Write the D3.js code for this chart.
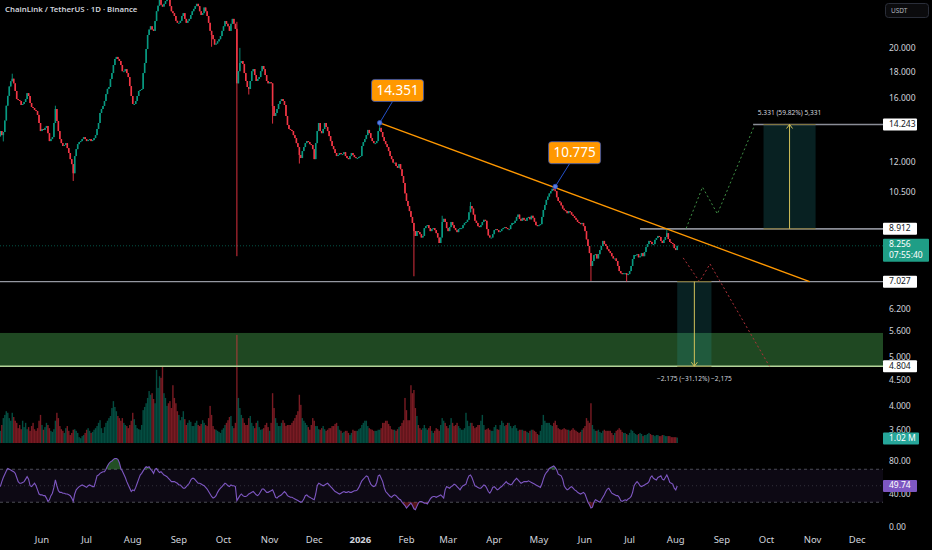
<!DOCTYPE html>
<html><head><meta charset="utf-8">
<script src="https://cdn.jsdelivr.net/npm/d3@7"></script>
<style>html,body{margin:0;padding:0;background:#000;overflow:hidden}svg{display:block}</style>
</head><body><svg id="c" width="932" height="550"></svg>
<script>
// ---------- DATA ----------
const startDate = "2025-05-04"; // first daily candle
const firstOpen = 13.5;
const closes = [
13.83,13.58,13.77,14.5,15.5,16.2,16.9,17.3,17.5,17.14,
16.56,15.97,15.9,15.83,15.55,15.62,15.76,15.97,16.4,16.19,
15.69,15.41,15.34,15.2,15.13,14.87,14.34,13.83,13.96,13.9,
14.03,14.15,13.7,13.22,13.34,13.46,14.34,15.27,14.47,13.83,
13.34,13.1,12.93,12.99,13.1,12.81,12.53,12.19,11.92,11.44,
12.36,12.75,13.04,13.16,13.22,13.34,13.46,13.34,13.22,13.28,
13.34,13.22,13.28,13.4,13.58,13.96,14.34,15.0,15.27,15.48,
15.83,16.33,16.72,16.86,17.48,17.95,18.61,19.12,19.3,19.12,
18.95,18.61,18.1,18.1,18.27,17.95,17.63,16.93,16.19,15.62,
15.62,15.83,16.19,16.56,16.63,16.71,17.95,18.78,20.0,21.3,
21.83,22.15,21.83,21.7,22.68,23.7,24.3,25.2,24.4,24.2,
24.5,24.8,25.4,25.0,24.25,23.7,23.5,23.2,22.7,22.5,
22.5,22.7,23.2,23.5,22.9,22.5,22.7,22.9,23.3,23.7,
23.95,24.25,24.5,24.25,23.7,23.3,23.5,24.1,23.7,23.2,
22.5,21.7,21.3,20.9,20.4,20.5,20.7,20.9,21.2,21.7,
22.15,22.68,22.4,22.15,21.7,22.4,22.9,22.4,21.9,17.14,
18.1,18.78,18.95,18.7,17.95,17.32,16.86,16.71,17.32,18.1,
18.27,17.79,17.32,17.48,17.63,18.1,18.53,18.27,17.79,17.32,
17.14,17.23,17.14,15.48,14.8,15.0,15.27,15.62,15.83,15.97,
15.83,15.55,14.8,14.21,13.96,13.9,13.83,13.58,13.4,13.1,
12.87,12.42,12.25,12.64,12.87,13.1,13.22,13.16,13.04,12.99,
12.75,12.19,13.1,13.83,14.34,13.83,13.7,13.96,14.34,14.09,
13.83,13.52,13.22,12.93,12.75,12.53,12.36,12.42,12.53,12.47,
12.47,12.58,12.36,12.25,12.19,12.36,12.53,12.42,12.30,12.25,
12.25,12.31,12.36,12.93,13.16,13.34,13.58,13.9,13.7,13.4,
13.22,13.1,13.1,13.22,13.83,14.03,13.77,13.46,13.22,13.04,
12.87,12.64,12.36,12.19,12.0,12.0,11.82,11.72,11.92,11.65,
11.3,10.95,10.45,10.1,9.87,9.65,9.4,9.15,8.82,8.63,
8.82,8.78,8.7,8.57,8.63,8.94,9.02,9.06,8.94,8.82,
8.9,8.94,8.86,8.74,8.57,8.36,8.57,9.19,9.32,9.19,
8.94,8.82,8.98,9.19,9.06,8.94,8.86,8.78,8.9,8.94,
8.94,9.06,9.15,9.19,9.28,9.6,9.87,9.76,9.5,9.24,
9.15,9.02,8.98,9.06,9.19,9.28,9.24,8.9,8.65,8.57,
8.57,8.7,8.86,8.9,8.86,8.78,8.82,8.9,8.94,8.98,
8.94,8.9,8.9,9.06,9.15,9.15,9.24,9.4,9.5,9.32,
9.24,9.36,9.28,9.24,9.36,9.4,9.3,9.45,9.36,9.2,
9.06,9.02,9.06,9.1,9.4,9.7,9.92,10.15,10.3,10.45,
10.56,10.67,10.6,10.56,10.27,10.1,10.03,9.9,9.76,9.69,
9.65,9.56,9.65,9.6,9.5,9.44,9.36,9.28,9.19,9.15,
9.1,9.15,9.02,8.82,8.5,8.25,7.99,7.54,7.71,7.92,
7.95,7.8,7.95,8.1,8.25,8.44,8.32,8.25,8.13,8.06,
7.99,7.88,7.8,7.8,7.71,7.54,7.37,7.3,7.27,7.3,
7.3,7.24,7.27,7.37,7.54,7.78,7.92,7.92,7.95,7.84,
7.88,7.99,7.88,8.03,8.21,8.32,8.44,8.4,8.32,8.32,
8.48,8.55,8.63,8.59,8.44,8.36,8.48,8.59,8.74,8.51,
8.4,8.36,8.32,8.17,8.1,8.256];
// notable wicks: index -> [high, low] (null = body edge)
const wicks = {2:[null,13.2],8:[17.9,null],37:[15.5,null],49:[null,11.05],107:[26.5,null],112:[26.8,null],
142:[null,20.2],159:[22.6,7.88],161:[20.1,null],167:[null,16.3],183:[null,14.3],201:[null,11.95],
255:[14.351,null],278:[null,7.2],297:[9.45,null],316:[10.05,null],373:[10.775,null],397:[null,7.05],
421:[null,7.03],448:[8.912,null]};
const volumes = [
2.3,3.4,4.7,5.3,6.0,5.7,4.7,4.2,5.7,4.9,
4.2,3.8,2.8,3.4,2.6,4.2,3.0,3.8,2.6,3.0,
2.3,3.2,3.8,2.6,2.3,2.8,4.2,5.3,3.4,2.5,
3.0,3.8,3.4,2.8,2.3,2.1,2.6,4.2,5.7,4.7,
3.2,2.6,2.3,1.9,2.8,3.2,2.3,1.5,1.9,2.5,
2.6,2.3,1.9,1.1,0.9,1.3,1.5,1.9,2.5,2.8,
2.3,1.9,2.1,2.5,2.8,3.2,3.8,4.3,2.8,1.9,
3.0,3.8,4.2,4.7,5.1,6.6,7.9,6.8,6.0,5.1,
4.7,4.2,4.7,3.8,3.4,3.2,2.8,3.4,4.2,5.7,
4.5,3.4,2.8,2.6,2.5,3.4,6.2,6.8,7.5,8.5,
9.8,9.1,9.4,8.3,7.5,13.8,10.4,12.6,12.3,14.5,
9.4,8.5,7.0,7.5,7.9,6.6,10.9,8.5,7.5,6.0,
5.3,4.3,4.9,6.0,4.5,3.4,3.8,4.3,4.0,3.2,
3.2,3.8,4.2,3.4,3.2,3.6,4.3,3.8,3.4,3.2,
4.7,7.0,5.3,3.2,2.6,2.5,2.3,2.1,1.9,2.5,
2.8,3.4,3.8,4.3,4.9,5.1,3.2,2.8,3.8,20.4,
8.5,6.6,5.3,4.7,3.8,3.4,3.4,4.7,5.1,3.8,
3.2,2.8,3.8,4.2,3.0,2.5,2.6,2.8,3.4,3.8,
3.0,2.3,3.8,9.4,6.6,4.7,3.8,3.2,3.2,3.8,
4.3,3.8,3.2,3.4,3.4,3.4,3.8,4.2,4.7,5.3,
6.0,9.1,7.2,4.7,4.2,3.8,3.4,3.0,2.5,3.4,
4.7,4.2,3.2,3.2,2.6,2.5,2.8,3.2,2.6,2.3,
2.5,2.8,2.8,3.2,3.2,3.6,3.8,3.2,2.5,2.3,
1.9,2.1,2.3,2.3,1.9,1.5,1.9,2.5,2.3,2.3,
2.3,2.6,2.8,3.4,3.8,4.2,4.2,3.2,2.8,2.6,
2.5,2.3,2.3,2.3,2.5,2.5,2.8,3.8,3.8,4.2,
4.2,3.6,3.2,2.6,2.5,2.5,2.3,2.6,3.0,3.2,
3.8,4.3,8.5,6.2,4.3,4.3,10.9,9.4,10.0,6.6,
5.1,3.4,2.8,2.5,2.8,3.4,2.8,2.5,2.8,3.2,
2.3,1.9,2.3,2.8,2.6,2.3,3.4,4.7,4.2,3.8,
3.2,2.8,3.4,4.7,3.8,3.2,3.4,3.8,3.2,2.8,
2.5,2.5,2.8,5.7,4.2,3.2,3.8,3.8,3.2,2.8,
3.0,3.4,3.4,4.2,5.3,3.4,2.5,2.6,2.8,2.5,
2.3,2.3,3.0,3.4,2.6,2.5,3.4,4.2,3.8,3.2,
3.4,3.8,3.8,3.2,2.8,3.2,3.4,2.8,2.3,2.5,
2.5,2.5,2.3,2.3,2.1,1.9,2.3,2.5,2.5,2.3,
2.1,1.7,1.5,2.3,3.4,5.3,4.2,3.8,3.8,3.8,
3.4,3.2,3.8,4.2,3.4,2.8,2.6,2.5,2.6,2.8,
2.6,2.5,2.5,2.3,2.5,2.8,2.5,2.3,2.1,1.9,
2.1,2.5,2.8,3.2,4.7,4.2,3.8,7.5,3.4,2.6,
2.3,2.3,2.5,2.1,1.9,2.3,2.5,2.3,2.3,2.3,
2.3,1.9,1.5,1.9,2.3,2.5,2.8,2.5,2.1,1.9,
1.9,1.7,1.5,1.9,2.5,2.3,1.9,1.7,1.5,1.7,
1.9,1.7,1.3,1.5,1.5,1.7,1.9,1.7,1.5,1.5,
1.3,1.5,1.5,1.3,1.3,1.5,1.5,1.3,1.3,1.3,
1.3,1.1,1.1,1.1,1.1,1.02];
const rsiValues = [
49,55,60,64,68,71,70,69,68,67, 65,60,55,53,53,54,55,58,61,58,
50,49,51,53,50,45,40,39,39,38, 38,35,31,33,38,41,48,57,50,44,
42,42,41,41,40,40,39,38,35,31, 40,45,47,49,50,51,50,49,48,50,
51,50,49,49,55,62,63,65,66,67, 67,70,74,77,79,80,82,83,83,82,
78,71,68,64,60,55,51,47,43,45, 44,48,53,58,63,65,68,71,73,72,
73,70,68,65,70,71,68,66,67,65, 63,62,61,59,57,55,55,55,54,53,
51,51,49,47,47,49,51,53,57,59, 59,57,55,53,53,52,51,50,48,46,
43,40,37,35,36,38,42,45,47,49, 51,53,52,50,49,51,50,50,49,32,
35,38,40,38,37,37,38,40,41,42, 43,41,39,38,40,43,46,46,44,42,
42,43,44,45,41,36,35,37,38,39, 41,43,41,38,37,36,36,35,34,33,
32,31,30,31,34,38,39,37,36,35, 34,33,40,50,53,52,51,50,51,52,
53,51,49,47,45,43,42,41,40,41, 42,43,42,42,43,42,42,43,44,44,
45,48,52,56,58,60,62,61,56,52, 50,49,50,54,62,63,59,55,48,43,
41,39,37,36,38,39,38,36,34,33, 30,28,26,23,25,27,29,26,22,21,
25,29,31,31,30,29,29,28,31,34, 36,37,37,36,37,38,39,37,35,45,
49,48,47,49,50,52,51,49,47,45, 48,50,51,52,58,62,63,60,55,50,
49,48,47,47,49,51,50,47,43,41, 44,48,49,47,45,46,48,49,51,53,
55,53,52,51,52,55,57,59,57,55, 53,54,55,55,55,56,55,54,53,52,
51,50,49,48,52,58,63,66,68,71, 72,73,74,72,69,64,63,62,58,50,
47,45,46,48,49,47,45,44,42,41, 40,41,42,40,35,30,27,23,24,30,
33,32,31,30,33,36,39,43,46,47, 44,41,40,39,38,38,36,32,31,32,
33,32,34,35,37,42,50,53,55,53, 50,49,50,51,52,53,55,60,62,59,
58,57,60,61,62,58,57,60,63,59, 54,53,52,47,45,49.74];

const priceTicks = [20, 18, 16, 12, 10.5, 6.2, 5.6, 5.0, 4.5, 4.0, 3.6];
const rsiTicks = [80, 40, 0];
const monthTicks = ["2025-06-01","2025-07-01","2025-08-01","2025-09-01","2025-10-01","2025-11-01","2025-12-01",
  "2026-01-01","2026-02-01","2026-03-01","2026-04-01","2026-05-01","2026-06-01","2026-07-01","2026-08-01",
  "2026-09-01","2026-10-01","2026-11-01","2026-12-01"];

const lastPrice = 8.256, countdown = "07:55:40", lastVolume = "1.02 M", lastRsi = "49.74";
const breakoutLevel = 8.912, breakoutFrom = "2026-07-08";
const supportLevel = 7.027;
const targetUp = 14.243, targetUpFrom = "2026-09-22";
const targetDown = 4.804, zoneTop = 5.58;
const trendFrom = {date:"2026-01-14", price:14.351}, trendTo = {date:"2026-10-30", price:7.027};
const peakLabels = [
  {text:"14.351", date:"2026-01-14", price:14.351, boxDate:"2026-01-26", boxPrice:16.6},
  {text:"10.775", date:"2026-05-12", price:10.775, boxDate:"2026-05-25", boxPrice:12.55}];
const longBox = {from:"2026-09-29", to:"2026-11-03", entry:8.912, target:14.243, text:"5.331 (59.82%) 5,331"};
const shortBox = {from:"2026-08-02", to:"2026-08-25", entry:7.027, target:4.804, text:"\u22122.175 (\u221231.12%) \u22122,175"};
const bullPath = [["2026-08-08",8.93],["2026-08-19",10.75],["2026-08-29",9.53],["2026-09-23",14.2]];
const bearPath = [["2026-08-06",7.82],["2026-08-17",7.027],["2026-08-24",7.61],["2026-10-03",4.804]];
const title = "ChainLink / TetherUS \u00b7 1D \u00b7 Binance";

// ---------- SCALES ----------
const W = 932, H = 550, plotRight = 883;
const D = s => new Date(s + "T00:00:00Z");
const t0 = D(startDate).getTime();
const dateOf = i => new Date(t0 + i * 86400000);
const x = d3.scaleUtc().domain([D("2025-06-01"), D("2026-06-01")]).range([42, 585]);
const y = d3.scaleLog().domain([4, 20]).range([407, 49]);
const yv = d3.scaleLinear().domain([0, 20]).range([443, 337]);
const yr = d3.scaleLinear().domain([0, 100]).range([527, 444.5]);

const UP = "#089981", DN = "#f23645";
const FONT = "'Noto Sans', 'Open Sans', sans-serif";
const svg = d3.select("#c");
svg.append("rect").attr("width", W).attr("height", H).attr("fill", "#000");
const plot = svg.append("g");
const defs = svg.append("defs");
defs.append("clipPath").attr("id", "pc").append("rect").attr("x", 0).attr("y", 0).attr("width", plotRight).attr("height", 446);

// RSI band
plot.append("rect").attr("x", 0).attr("width", plotRight).attr("y", yr(70)).attr("height", yr(30) - yr(70))
  .attr("fill", "rgba(126,87,194,0.1)");
[70, 30].forEach(v => plot.append("line").attr("x1", 0).attr("x2", plotRight).attr("y1", yr(v)).attr("y2", yr(v))
  .attr("stroke", "#787b86").attr("stroke-opacity", 0.6).attr("stroke-dasharray", "3,3"));
plot.append("line").attr("x1", 0).attr("x2", plotRight).attr("y1", yr(50)).attr("y2", yr(50))
  .attr("stroke", "#787b86").attr("stroke-opacity", 0.35).attr("stroke-dasharray", "1,3");

const main = plot.append("g").attr("clip-path", "url(#pc)");
// green zone
main.append("rect").attr("x", 0).attr("width", plotRight).attr("y", y(zoneTop)).attr("height", y(targetDown) - y(zoneTop))
  .attr("fill", "#1f4822");
// position boxes
[longBox, shortBox].forEach(b => {
  const x0 = x(D(b.from)), x1 = x(D(b.to));
  const yt = Math.min(y(b.entry), y(b.target)), yb = Math.max(y(b.entry), y(b.target));
  main.append("rect").attr("x", x0).attr("width", x1 - x0).attr("y", yt).attr("height", yb - yt)
    .attr("fill", "rgba(38,166,170,0.2)");
});

// volume
main.append("g").selectAll("rect").data(volumes).join("rect")
  .attr("x", (v, i) => x(dateOf(i)) - 0.7).attr("width", 1.4)
  .attr("y", v => yv(v)).attr("height", v => yv(0) - yv(v))
  .attr("fill", (v, i) => (closes[i] >= (i ? closes[i - 1] : firstOpen)) ? "rgba(8,153,129,0.5)" : "rgba(242,54,69,0.5)");

// level lines
const hline = (p, xs, col, w) => main.append("line").attr("x1", xs).attr("x2", plotRight).attr("y1", y(p)).attr("y2", y(p))
  .attr("stroke", col).attr("stroke-width", w);
hline(supportLevel, 0, "#9598a1", 1.2);
hline(breakoutLevel, x(D(breakoutFrom)), "#8a8d96", 1.8);
hline(targetUp, x(D(targetUpFrom)), "#8a8d96", 1.6);
hline(targetDown, 0, "#b5d49a", 1.4);
// current price dotted
main.append("line").attr("x1", 0).attr("x2", plotRight).attr("y1", y(lastPrice)).attr("y2", y(lastPrice))
  .attr("stroke", "#089981").attr("stroke-opacity", 0.55).attr("stroke-dasharray", "1,2");

// candles
const cg = main.append("g");
closes.forEach((c, i) => {
  const o = i ? closes[i - 1] : firstOpen;
  let hi = Math.max(o, c), lo = Math.min(o, c);
  if (wicks[i]) { if (wicks[i][0] != null) hi = wicks[i][0]; if (wicks[i][1] != null) lo = wicks[i][1]; }
  const cx = x(dateOf(i)), col = c >= o ? UP : DN;
  cg.append("line").attr("x1", cx).attr("x2", cx).attr("y1", y(hi)).attr("y2", y(lo)).attr("stroke", col).attr("stroke-width", 0.9);
  const yt = y(Math.max(o, c)), yb = y(Math.min(o, c));
  cg.append("rect").attr("x", cx - 0.8).attr("width", 1.6).attr("y", yt).attr("height", Math.max(1, yb - yt)).attr("fill", col);
});

// trendline
main.append("line").attr("x1", x(D(trendFrom.date))).attr("y1", y(trendFrom.price))
  .attr("x2", x(D(trendTo.date))).attr("y2", y(trendTo.price)).attr("stroke", "#ff9800").attr("stroke-width", 1.3);

// projections
const pl = d3.line().x(d => x(D(d[0]))).y(d => y(d[1]));
main.append("path").attr("d", pl(bullPath)).attr("fill", "none").attr("stroke", "#3f8f45").attr("stroke-width", 1).attr("stroke-dasharray", "2,2.5");
main.append("path").attr("d", pl(bearPath)).attr("fill", "none").attr("stroke", "#b0323a").attr("stroke-width", 1).attr("stroke-dasharray", "2,2.5");

// box arrows and entry edge
[longBox, shortBox].forEach(b => {
  const x0 = x(D(b.from)), x1 = x(D(b.to)), cx = (x0 + x1) / 2;
  const ye = y(b.entry), yt = y(b.target), dir = yt < ye ? 1 : -1;
  main.append("line").attr("x1", x0).attr("x2", x1).attr("y1", ye).attr("y2", ye).attr("stroke", "#7d6f2c").attr("stroke-width", 1);
  main.append("line").attr("x1", x0).attr("x2", x1).attr("y1", yt).attr("y2", yt).attr("stroke", "#7d6f2c").attr("stroke-width", 0.8);
  main.append("line").attr("x1", cx).attr("x2", cx).attr("y1", ye).attr("y2", yt).attr("stroke", "#d2c15a").attr("stroke-width", 1);
  main.append("path").attr("d", `M${cx - 3},${yt + dir * 4}L${cx},${yt}L${cx + 3},${yt + dir * 4}`)
    .attr("fill", "none").attr("stroke", "#d2c15a").attr("stroke-width", 1);
  const ty = yt < ye ? yt - 11 : yt + 13;
  plot.append("text").attr("x", cx).attr("y", ty).attr("text-anchor", "middle").attr("dominant-baseline", "middle")
    .attr("font-family", FONT).attr("font-size", 6.6).attr("fill", "#d1d4dc").text(b.text);
});

// peak labels
peakLabels.forEach(p => {
  const px = x(D(p.date)), py = y(p.price), bx = x(D(p.boxDate)), by = y(p.boxPrice);
  const bw = 52, bh = 22;
  plot.append("line").attr("x1", bx - 5).attr("y1", by + bh / 2).attr("x2", px).attr("y2", py)
    .attr("stroke", "#2450c8").attr("stroke-width", 1);
  plot.append("circle").attr("cx", px).attr("cy", py).attr("r", 2.3).attr("fill", "#5b7de0").attr("stroke", "#2450c8").attr("stroke-width", 0.8);
  plot.append("rect").attr("x", bx - bw / 2).attr("y", by - bh / 2).attr("width", bw).attr("height", bh).attr("rx", 3)
    .attr("fill", "#ff9800").attr("stroke", "#3657b8").attr("stroke-width", 0.8);
  plot.append("text").attr("x", bx).attr("y", by + 1).attr("text-anchor", "middle").attr("dominant-baseline", "middle")
    .attr("font-family", FONT).attr("font-size", 13.5).attr("fill", "#fff").text(p.text);
});

// RSI
const rsiX = (d, i) => x(dateOf(i));
plot.append("path").datum(rsiValues).attr("fill", "rgba(76,175,80,0.45)")
  .attr("d", d3.area().x(rsiX).y0(yr(70)).y1(v => yr(Math.max(v, 70))));
plot.append("path").datum(rsiValues).attr("fill", "rgba(242,54,69,0.35)")
  .attr("d", d3.area().x(rsiX).y0(yr(30)).y1(v => yr(Math.min(v, 30))));
plot.append("path").datum(rsiValues).attr("fill", "none").attr("stroke", "#7e57c2").attr("stroke-width", 1.1)
  .attr("d", d3.line().x(rsiX).y(v => yr(v)));

// ---------- AXES ----------
const ax = svg.append("g").attr("font-family", FONT).attr("font-size", 8.5).attr("fill", "#d1d4dc");
const fmt3 = d3.format(".3f"), fmt2 = d3.format(".2f");
priceTicks.forEach(v => ax.append("text").attr("x", 889).attr("y", y(v)).attr("dominant-baseline", "middle").text(fmt3(v)));
rsiTicks.forEach(v => ax.append("text").attr("x", 889).attr("y", yr(v) + 1).attr("dominant-baseline", "middle").text(fmt2(v)));

function tag(yc, lines, fill, color, w) {
  const h = lines.length * 11 + 1;
  ax.append("rect").attr("x", 883).attr("y", yc - 6).attr("width", w).attr("height", h).attr("fill", fill).attr("rx", 1);
  lines.forEach((t, k) => ax.append("text").attr("x", 889).attr("y", yc + k * 11).attr("dominant-baseline", "middle")
    .attr("fill", color).text(t));
}
tag(y(targetUp), [fmt3(targetUp)], "#ffffff", "#131722", 34);
tag(y(breakoutLevel), [fmt3(breakoutLevel)], "#ffffff", "#131722", 34);
tag(y(lastPrice) - 1, [fmt3(lastPrice), countdown], "#1f9e86", "#ffffff", 46);
tag(y(supportLevel), [fmt3(supportLevel)], "#ffffff", "#131722", 34);
tag(y(targetDown), [fmt3(targetDown)], "#ffffff", "#131722", 34);
tag(yv(volumes[volumes.length - 1]) + 1, [lastVolume], "#26a69a", "#ffffff", 36);
tag(yr(+lastRsi), [lastRsi], "#7e57c2", "#ffffff", 34);

// USDT box
ax.append("rect").attr("x", 885.5).attr("y", 3.5).attr("width", 43).attr("height", 14).attr("rx", 3)
  .attr("fill", "#0b0b0d").attr("stroke", "#2a2e39");
ax.append("text").attr("x", 891).attr("y", 11).attr("dominant-baseline", "middle").attr("font-size", 6.5).attr("fill", "#b2b5be").text("USDT");

// time axis
svg.append("rect").attr("x", 0).attr("y", 530).attr("width", W).attr("height", 20).attr("fill", "#000");
const tg = svg.append("g").attr("font-family", FONT).attr("font-size", 9.5).attr("fill", "#d1d4dc");
monthTicks.forEach(s => {
  const d = D(s), isYear = d.getUTCMonth() === 0;
  tg.append("text").attr("x", x(d)).attr("y", 540).attr("text-anchor", "middle").attr("dominant-baseline", "middle")
    .attr("font-weight", isYear ? 700 : 400).text(isYear ? d3.utcFormat("%Y")(d) : d3.utcFormat("%b")(d));
});

// title
svg.append("text").attr("x", 5).attr("y", 10).attr("dominant-baseline", "middle").attr("font-family", FONT)
  .attr("font-size", 7.8).attr("font-weight", 600).attr("fill", "#d1d4dc").text(title);
</script></body></html>
